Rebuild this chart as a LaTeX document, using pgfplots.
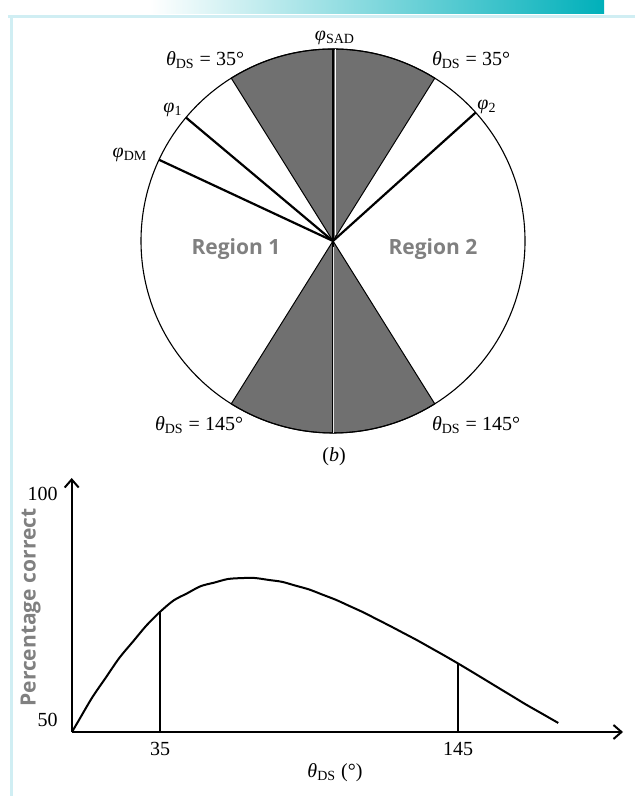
\documentclass[border=0pt]{standalone}
\usepackage{pgfplots}
\pgfplotsset{compat=1.18}
\usepackage{fontspec}
\setmainfont{Liberation Serif}
\setsansfont{Open Sans}
\usetikzlibrary{arrows.meta}
\definecolor{tealbar}{RGB}{0,176,186}
\definecolor{frameline}{RGB}{208,238,243}
\definecolor{sect}{RGB}{112,112,112}
\definecolor{lbl}{RGB}{128,128,128}
\newcommand\thds{\textit{θ}\textsubscript{DS}}
\begin{document}
\begin{tikzpicture}
\useasboundingbox (0,0) rectangle (317.5pt,398pt);
% page frame
\shade[left color=white, right color=tealbar] (75pt,398pt) rectangle (302pt,391pt);
\draw[frameline, line width=1.5pt] (4pt,389.75pt) -- (317.5pt,389.75pt);
\draw[frameline, line width=1.5pt] (5.75pt,389.75pt) -- (5.75pt,0pt);

% circle diagram
\begin{axis}[name=circ, at={(166.5pt,277.5pt)}, anchor=center, scale only axis,
  width=192pt, height=192pt, xmin=-1, xmax=1, ymin=-1, ymax=1, hide axis, clip=false]
\fill[sect, draw=black, line width=0.5pt] (axis cs:0,0) -- (axis cs:0.530,0.848) arc[start angle=58, end angle=122, radius=96pt] -- cycle;
\fill[sect, draw=black, line width=0.5pt] (axis cs:0,0) -- (axis cs:-0.530,-0.848) arc[start angle=238, end angle=302, radius=96pt] -- cycle;
\draw[line width=0.55pt] (axis cs:1,0) arc[start angle=0, end angle=360, radius=96pt];
\addplot[black, line width=1.1pt] coordinates {(0,0) (0,1)};
\addplot[white, line width=0.5pt] coordinates {(0.012,0.03) (0.012,1)};
\addplot[black, line width=0.9pt] coordinates {(0,0) (0,-1)};
\addplot[white!80!gray, line width=0.35pt] coordinates {(0,-0.03) (0,-1)};
\addplot[black, line width=1.1pt] coordinates {(0,0) (-0.766,0.643)};
\addplot[black, line width=1.1pt] coordinates {(0,0) (-0.906,0.423)};
\addplot[black, line width=1.1pt] coordinates {(0,0) (0.743,0.669)};
\end{axis}
\node at (167.5pt,379pt) {\textit{φ}\textsubscript{SAD}};
\node at (102.5pt,368pt) {\thds\ = 35°};
\node at (235.5pt,368pt) {\thds\ = 35°};
\node at (86.5pt,343pt) {\textit{φ}\textsubscript{1}};
\node at (65pt,320.5pt) {\textit{φ}\textsubscript{DM}};
\node at (243.5pt,344.5pt) {\textit{φ}\textsubscript{2}};
\node[lbl, font=\sffamily\bfseries\fontsize{10.5}{12}\selectfont] at (118pt,273.5pt) {Region 1};
\node[lbl, font=\sffamily\bfseries\fontsize{10.5}{12}\selectfont] at (216.5pt,273.5pt) {Region 2};
\node at (99.5pt,185.5pt) {\thds\ = 145°};
\node at (238pt,185.5pt) {\thds\ = 145°};
\node at (167pt,169.5pt) {(\textit{b})};

% performance curve
\begin{axis}[at={(35.85pt,32pt)}, anchor=south west, scale only axis,
  width=275.65pt, height=127pt,
  xmin=2.4, xmax=205.9, ymin=50, ymax=103.36,
  axis lines=left,
  axis line style={line width=1pt, -{Straight Barb[length=4pt,width=7pt]}},
  /pgf/number format/assume math mode=true,
  major tick length=0pt,
  xtick={35,145}, ytick={50,100},
  yticklabels={\raisebox{12pt}{50},100},
  xticklabel style={yshift=-1.5pt},
  yticklabel style={xshift=-3.5pt},
  xlabel={\thds\ (°)},
  xlabel style={at={(axis description cs:0.4776,0)}, anchor=center, yshift=-20.5pt},
  ylabel={Percentage correct},
  ylabel style={at={(axis description cs:-0.0744,0.49)}, anchor=center,
    lbl, font=\sffamily\bfseries\fontsize{10.5}{12}\selectfont},
  clip=false]
\addplot[black, line width=1pt, smooth, tension=0.5] coordinates {
 (2.5,50) (5,52.43) (10,57.28) (15,61.43) (20,65.58) (25,68.98) (30,72.38)
 (35,75.23) (40,77.63) (45,79.13) (50,80.63) (55,81.38) (60,82.13) (65,82.33)
 (70,82.35) (75,81.95) (80,81.55) (85,80.75) (90,79.95) (95,78.85) (100,77.75)
 (105,76.45) (110,75.15) (115,73.7) (120,72.25) (125,70.75) (130,69.25)
 (135,67.65) (140,66.05) (145,64.4) (150,62.7) (155,60.98) (160,59.25)
 (165,57.53) (170,55.8) (175,54.18) (182,51.9)};
\addplot[black, line width=1pt] coordinates {(35,50) (35,75.23)};
\addplot[black, line width=1pt] coordinates {(145,50) (145,64.4)};
\end{axis}
\end{tikzpicture}
\end{document}
